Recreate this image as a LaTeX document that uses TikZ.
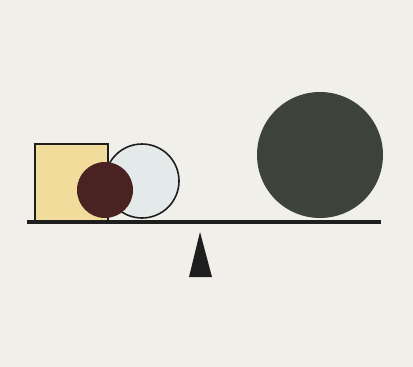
\documentclass[tikz,border=0pt]{standalone}
\begin{document}
\begin{tikzpicture}[x=1pt,y=-1pt]
\definecolor{bg}{HTML}{F0EFEA}
\definecolor{boxfill}{HTML}{F2DC9C}
\definecolor{paleball}{HTML}{E4EAEA}
\definecolor{redball}{HTML}{4B2222}
\definecolor{bigball}{HTML}{3E4339}
\definecolor{ink}{HTML}{1E1E1E}
\tikzset{outline/.style={draw=ink,line width=1.6pt}}
\fill[bg] (0,0) rectangle (413,367);
\useasboundingbox (0,0) rectangle (413,367);
% yellow block
\filldraw[fill=boxfill,outline] (35,221) -- (35,144) -- (108,144) -- (108,156) -- (108,221);
% pale ball
\filldraw[fill=paleball,outline] (142,181) circle (37);
% dark red ball
\fill[redball] (105,190) circle (28);
% big dark ball
\fill[bigball] (320,155) circle (63);
% beam
\draw[ink,line width=4pt] (27,222) -- (381,222);
% fulcrum
\fill[ink] (200,232) -- (212,277) -- (189,277) -- cycle;
\end{tikzpicture}
\end{document}
